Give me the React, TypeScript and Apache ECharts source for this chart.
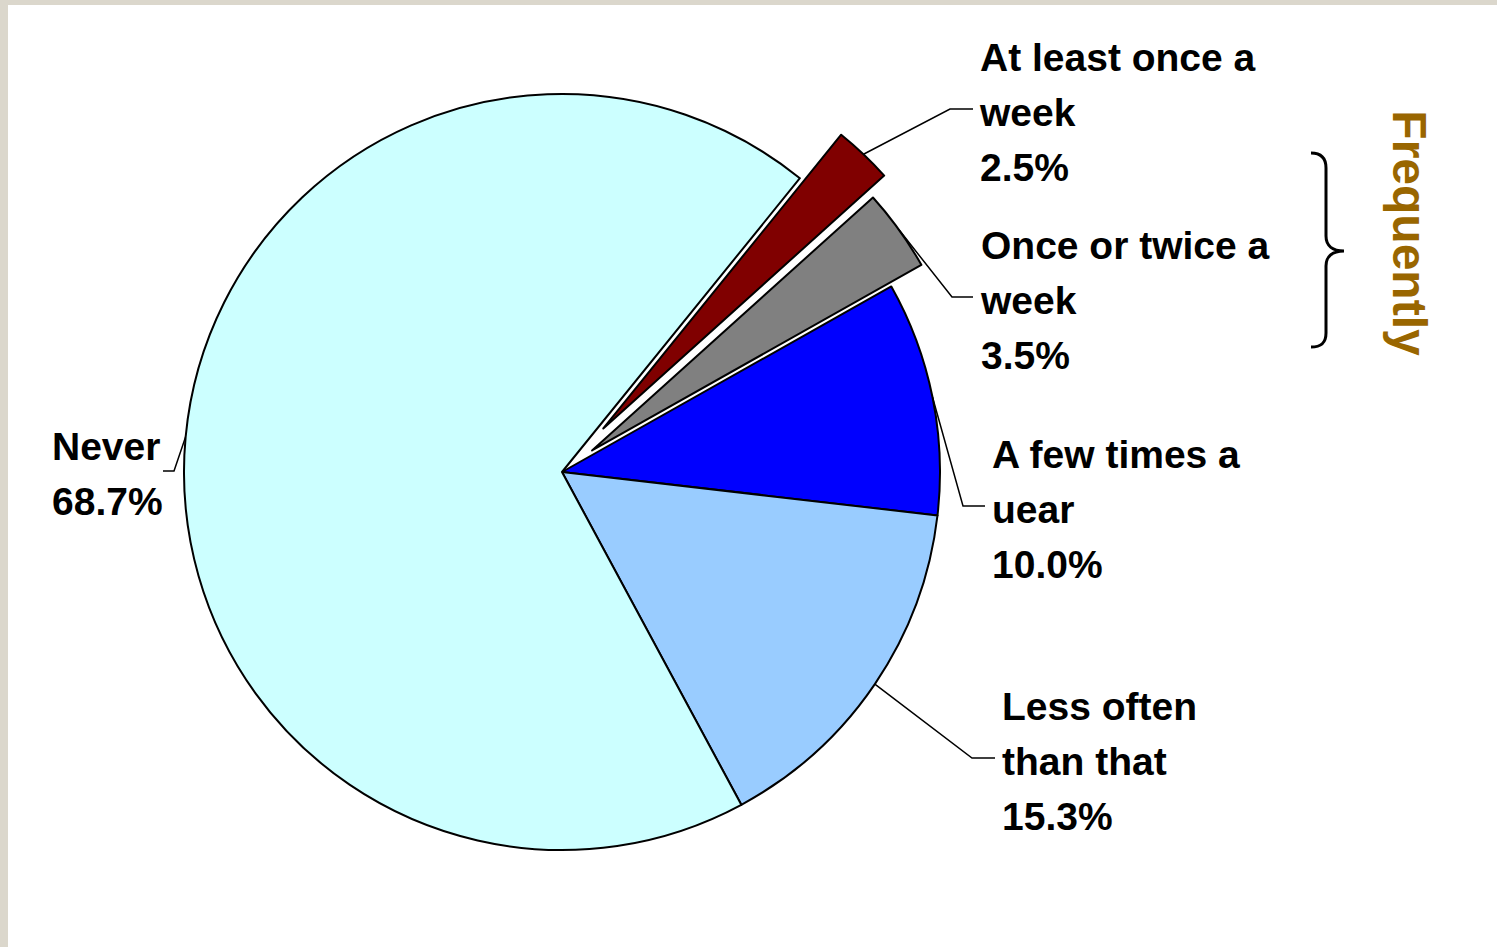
import React, { useEffect, useRef } from 'react';
import * as echarts from 'echarts';

// ---- data ----
const categories = [
  'At least once a\nweek',
  'Once or twice a\nweek',
  'A few times a\nuear',
  'Less often\nthan that',
  'Never',
];
const values = [2.5, 3.5, 10.0, 15.3, 68.7];
const sliceColors = ['#800000', '#808080', '#0000ff', '#99ccff', '#ccffff'];
const explodeOffsets = [60, 37, 0, 0, 0];
const bracketTitle = 'Frequently';

// label placement: anchor x (text left edge), y (block middle), line elbow x and line end x
const labelAnchors = [
  { x: 980, y: 112, elbowX: 950, endX: 973 },
  { x: 981, y: 300, elbowX: 952, endX: 973 },
  { x: 992, y: 509, elbowX: 963, endX: 985 },
  { x: 1002, y: 761, elbowX: 972, endX: 995 },
  { x: 52, y: 474, elbowX: 174, endX: 163 },
];

const FONT = '"Liberation Sans", Arial, Helvetica, sans-serif';
const CENTER = [562, 472];
const RADIUS = 378;
const START_ANGLE = 51;

const BraceShape = echarts.graphic.extendPath(
  'M0,0 C10,0 15,5 15,15 L15,83 C15,93 22,98 33,98 C22,98 15,103 15,113 L15,180 C15,190 10,194 0,194',
  {}
);
echarts.graphic.registerShape('brace', BraceShape as any);

export default function App() {
  const ref = useRef<HTMLDivElement>(null);

  useEffect(() => {
    document.body.style.margin = '0';
    if (!ref.current) return;
    const chart = echarts.init(ref.current, null, { renderer: 'svg' });

    const total = values.reduce((s, v) => s + v, 0);
    // mid angle of each slice (degrees, counter-clockwise from 3 o'clock)
    let acc = 0;
    const midAngles = values.map((v) => {
      const m = START_ANGLE - (360 * (acc + v / 2)) / total;
      acc += v;
      return m;
    });

    const groups = Array.from(new Set(explodeOffsets)).sort((a, b) => a - b);

    const series = groups.map((off) => {
      // exploded slices: the whole pie of that group is shifted along the slice's mid angle
      const idx = explodeOffsets.indexOf(off);
      const rad = (midAngles[idx] * Math.PI) / 180;
      const cx = off > 0 ? CENTER[0] + off * Math.cos(rad) : CENTER[0];
      const cy = off > 0 ? CENTER[1] - off * Math.sin(rad) : CENTER[1];
      return {
        type: 'pie',
        center: [cx, cy],
        radius: RADIUS,
        startAngle: START_ANGLE,
        clockwise: true,
        avoidLabelOverlap: false,
        emphasis: { disabled: true },
        z: off > 0 ? 3 : 2,
        label: {
          show: true,
          position: 'outside',
          color: '#000',
          fontFamily: FONT,
          fontWeight: 'bold',
          fontSize: 39,
          lineHeight: 55,
          align: 'left',
          formatter: (p: any) => `${p.name}\n${Number(p.value).toFixed(1)}%`,
        },
        labelLine: {
          show: true,
          length: 20,
          length2: 20,
          lineStyle: { color: '#000', width: 1.5 },
        },
        labelLayout: (params: any) => {
          const a = labelAnchors[params.dataIndex];
          if (!a) return {};
          const ly = a.y - 3;
          const pts = params.labelLinePoints;
          const res: any = {
            x: a.x,
            y: a.y,
            align: 'left',
            verticalAlign: 'middle',
          };
          if (pts && pts[0]) {
            res.labelLinePoints = [pts[0], [a.elbowX, ly], [a.endX, ly]];
          }
          return res;
        },
        data: values.map((v, i) => {
          const visible = explodeOffsets[i] === off;
          return {
            value: v,
            name: categories[i],
            itemStyle: visible
              ? { color: sliceColors[i], borderColor: '#000', borderWidth: 2 }
              : { color: 'rgba(0,0,0,0)', borderWidth: 0 },
            label: { show: visible },
            labelLine: { show: visible },
          };
        }),
      };
    });

    chart.setOption({
      animation: false,
      backgroundColor: '#ffffff',
      tooltip: { show: false },
      graphic: [
        { type: 'rect', shape: { x: 0, y: 0, width: 1497, height: 5 }, style: { fill: '#dbd7cc' } },
        { type: 'rect', shape: { x: 0, y: 0, width: 8, height: 947 }, style: { fill: '#dbd7cc' } },
        {
          type: 'brace',
          x: 1311,
          y: 153,
          style: { stroke: '#000', lineWidth: 3, fill: 'none' },
        },
        {
          type: 'text',
          x: 1409,
          y: 233,
          rotation: -Math.PI / 2,
          style: {
            text: bracketTitle,
            fill: '#996600',
            font: `bold 48px ${FONT}`,
            textAlign: 'center',
            textVerticalAlign: 'middle',
          },
        },
      ],
      series,
    } as any);

    return () => chart.dispose();
  }, []);

  return <div ref={ref} style={{ width: 1497, height: 947 }} />;
}
